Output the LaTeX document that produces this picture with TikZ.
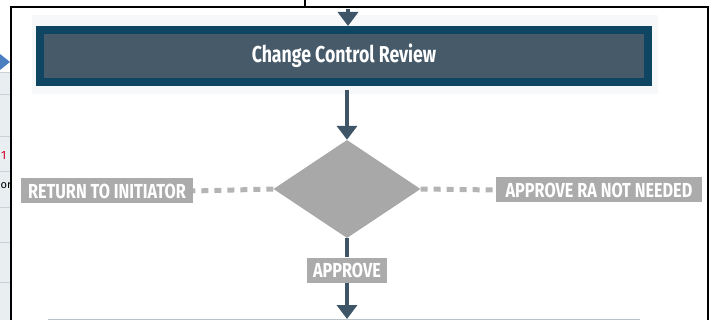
\documentclass[tikz,border=0pt]{standalone}
\usepackage{fontspec}
\setmainfont{Fira Sans}
\newfontfamily\titlef[FakeStretch=0.77]{Fira Sans}
\newfontfamily\tagf[FakeStretch=0.8]{Fira Sans}
\usetikzlibrary{shapes.geometric,arrows.meta}
\definecolor{frameblue}{HTML}{0D4563}
\definecolor{slate}{HTML}{465A69}
\definecolor{arrowc}{HTML}{3E5567}
\definecolor{diag}{HTML}{A8A8A8}
\definecolor{lab}{HTML}{ABABAB}
\definecolor{dashc}{HTML}{B4B4B4}
\definecolor{strip}{HTML}{E9EFF1}
\definecolor{stripline}{HTML}{C9D2D6}
\definecolor{bluearr}{HTML}{4A7FC1}
\definecolor{lightshade}{HTML}{F7F8F9}
\definecolor{edgegrey}{HTML}{B9C2C6}
\tikzset{
  titlebox/.style={draw=frameblue, line width=8pt, fill=slate, minimum width=608pt, minimum height=52pt, inner sep=0pt, text=white, font=\titlef\bfseries\fontsize{23}{23}\selectfont},
  decision/.style={diamond, fill=diag, minimum width=147pt, minimum height=98pt, inner sep=0pt},
  tag/.style={fill=lab, text=white, inner sep=0pt, minimum height=25pt, font=\tagf\bfseries\fontsize{20.3}{20.3}\selectfont},
  flow/.style={draw=arrowc, line width=4pt, -{Triangle[width=20pt,length=14pt]}},
  flowplain/.style={draw=arrowc, line width=4pt},
  dashline/.style={draw=dashc, line width=5pt, dash pattern=on 7pt off 6pt},
  frameline/.style={draw=black, line width=1.5pt}
}
\begin{document}
\begin{tikzpicture}[x=1pt,y=-1pt]
\useasboundingbox (0,0) rectangle (714,320);
% left strip outside the frame
\begin{scope}
\clip (0,0) rectangle (11,320);
\fill[strip] (0,73) rectangle (11,320);
\foreach \yy in {73,95,137,172,208,243,282}
  \draw[stripline, line width=1pt] (0,\yy) -- (11,\yy);
\fill[bluearr] (0,54) -- (10,62) -- (0,70) -- cycle;
\end{scope}
\node[text=purple!70!red, font=\fontsize{12}{12}\selectfont, anchor=west, inner sep=0pt] (s1) at (1,155) {1};
\node[text=black, font=\fontsize{11}{11}\selectfont, anchor=west, inner sep=0pt] (s2) at (0.5,186) {or};
% light shade behind title
\fill[lightshade] (32,15) rectangle (658,94);
% nodes
\node[titlebox] (review) at (344,56) {Change Control Review};
\node[decision] (dec) at (347,189) {};
\node[tag, minimum width=172pt] (ret) at (107,191) {RETURN TO INITIATOR};
\node[tag, minimum width=206pt] (ra) at (599,190) {APPROVE RA NOT NEEDED};
\coordinate (topin) at (348,9);
\coordinate (bottomin) at (347,319);
% connectors
\draw[flow] (topin) -- (review.north -| topin);
\draw[flow] (review.south -| dec.north) ++(0,4) -- (dec.north);
\draw[dashline] (dec.west) -- (ret.east);
\draw[dashline] (dec.east) -- (ra.west);
\node[tag, minimum width=80pt, minimum height=25pt] (appr) at (347,270) {APPROVE};
\draw[flowplain] (dec.south) -- (appr.north);
\draw[flow] (appr.south) -- (bottomin);
% bottom box edge
\draw[draw=edgegrey, line width=2pt] (48,319.5) -- (640,319.5);
% outer frame
\draw[frameline] (11,321) -- (11,7) -- (708,7) -- (708,321);
\draw[frameline] (305,0) -- (305,7);
\end{tikzpicture}
\end{document}
